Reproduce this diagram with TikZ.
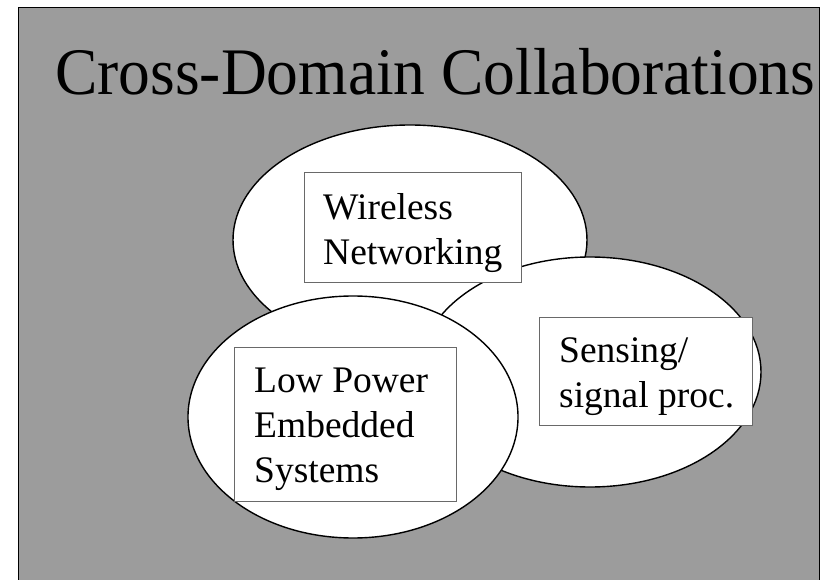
\documentclass[tikz,border=0pt]{standalone}
\usepackage{fontspec}
\setmainfont{Liberation Serif}
\newfontfamily\titlefont[FakeStretch=0.955]{Liberation Serif}
\definecolor{slidegray}{RGB}{156,156,156}
\definecolor{boxline}{RGB}{105,105,105}
\begin{document}
\begin{tikzpicture}[x=1pt,y=-1pt,
  bubble/.style={draw=black,fill=white,line width=1.4pt},
  labelbox/.style={draw=boxline,fill=white,line width=1pt},
  boxtext/.style={anchor=base west,inner sep=0pt,font=\fontsize{37.5}{45}\selectfont,align=left}]
\useasboundingbox (0,0) rectangle (830,580);
\fill[white] (0,0) rectangle (830,580);
\filldraw[fill=slidegray,draw=black,line width=1.6pt] (18.5,590) -- (18.5,7.5) -- (819.5,7.5) -- (819.5,590);
\node[anchor=base west,inner sep=0pt,font=\titlefont\fontsize{66.5}{70}\selectfont] (title) at (55,95) {Cross-Domain Collaborations};
% ellipses
\draw[bubble] (410,240) ellipse [x radius=177, y radius=115];
\draw[bubble] (590,372) ellipse [x radius=171, y radius=115];
\draw[bubble] (353,417) ellipse [x radius=165, y radius=121];
% boxes
\draw[labelbox] (304,173) rectangle (521,282);
\node[boxtext] (wireless) at (323,265) {Wireless\\Networking};
\draw[labelbox] (539,317) rectangle (752,425);
\node[boxtext] (sensing) at (559,407) {Sensing/\\signal proc.};
\draw[labelbox] (234,347) rectangle (456,501);
\node[boxtext] (lowpower) at (254,482) {Low Power\\Embedded\\Systems};
\end{tikzpicture}
\end{document}
